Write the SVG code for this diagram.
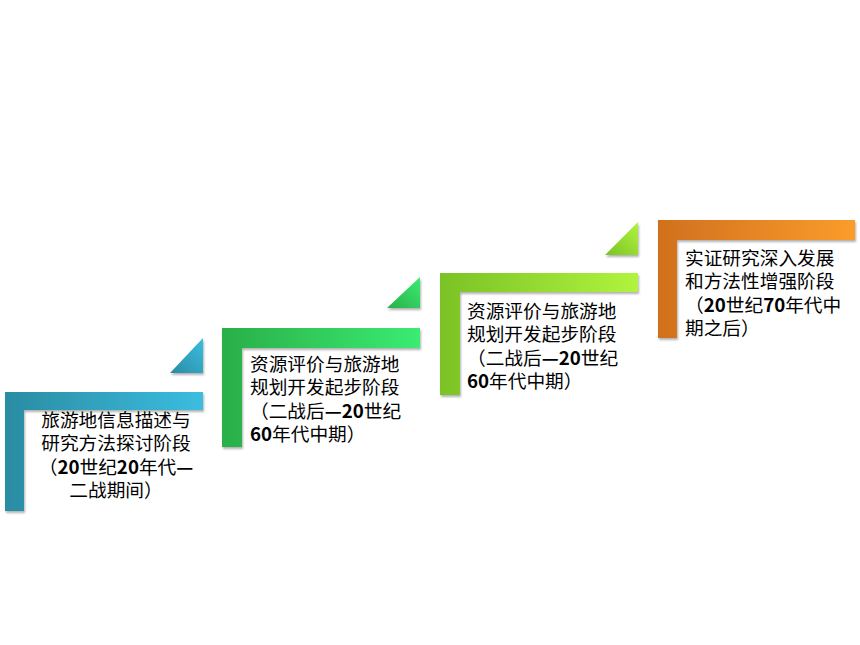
<svg xmlns="http://www.w3.org/2000/svg" width="860" height="645" viewBox="0 0 860 645">
<style>
.t{font-family:"Noto Sans CJK SC","Microsoft YaHei",sans-serif;font-size:18.7px;fill:#000}
.m{text-anchor:middle}
.b{font-weight:bold}
</style>
<defs>
<filter id="sh" x="-10%" y="-10%" width="130%" height="130%">
<feDropShadow dx="1" dy="2" stdDeviation="1.2" flood-color="#000" flood-opacity="0.3"/>
</filter>
<linearGradient id="g1" gradientUnits="userSpaceOnUse" x1="5" y1="0" x2="203" y2="0"><stop offset="0" stop-color="#2a8ca2"/><stop offset="1" stop-color="#3bbde0"/></linearGradient>
<linearGradient id="t1" x1="0" y1="1" x2="1" y2="0"><stop offset="0" stop-color="#2a8ca2"/><stop offset="1" stop-color="#3bbde0"/></linearGradient>
<linearGradient id="g2" gradientUnits="userSpaceOnUse" x1="222" y1="0" x2="420" y2="0"><stop offset="0" stop-color="#2aaf48"/><stop offset="1" stop-color="#3aec72"/></linearGradient>
<linearGradient id="t2" x1="0" y1="1" x2="1" y2="0"><stop offset="0" stop-color="#2aaf48"/><stop offset="1" stop-color="#3aec72"/></linearGradient>
<linearGradient id="g3" gradientUnits="userSpaceOnUse" x1="440" y1="0" x2="638" y2="0"><stop offset="0" stop-color="#7bc226"/><stop offset="1" stop-color="#b0f43e"/></linearGradient>
<linearGradient id="t3" x1="0" y1="1" x2="1" y2="0"><stop offset="0" stop-color="#7bc226"/><stop offset="1" stop-color="#b0f43e"/></linearGradient>
<linearGradient id="g4" gradientUnits="userSpaceOnUse" x1="658" y1="0" x2="855" y2="0"><stop offset="0" stop-color="#d0701e"/><stop offset="1" stop-color="#fb9c2c"/></linearGradient>
</defs>
<g id="connectors"></g>
<g id="step1">
<path d="M5 392H203V410H24V511H5Z" fill="url(#g1)" filter="url(#sh)"/>
<path d="M170 373L203 338V373Z" fill="url(#t1)" filter="url(#sh)"/>
<text class="t m" x="116" y="427">旅游地信息描述与</text>
<text class="t m" x="116" y="450">研究方法探讨阶段</text>
<text class="t m" x="116" y="474">（<tspan class="b">20</tspan>世纪<tspan class="b">20</tspan>年代<tspan class="b">—</tspan></text>
<text class="t m" x="116" y="497">二战期间）</text>
</g>
<g id="step2">
<path d="M222 328H420V348H242V447H222Z" fill="url(#g2)" filter="url(#sh)"/>
<path d="M387 308L420 277V308Z" fill="url(#t2)" filter="url(#sh)"/>
<text class="t" x="250" y="371">资源评价与旅游地</text>
<text class="t" x="250" y="394">规划开发起步阶段</text>
<text class="t" x="250" y="418">（二战后<tspan class="b">—20</tspan>世纪</text>
<text class="t" x="250" y="441"><tspan class="b">60</tspan>年代中期）</text>
</g>
<g id="step3">
<path d="M440 273H638V292H460V395H440Z" fill="url(#g3)" filter="url(#sh)"/>
<path d="M605 255L638 222V255Z" fill="url(#t3)" filter="url(#sh)"/>
<text class="t" x="467" y="318">资源评价与旅游地</text>
<text class="t" x="467" y="341">规划开发起步阶段</text>
<text class="t" x="467" y="365">（二战后<tspan class="b">—20</tspan>世纪</text>
<text class="t" x="467" y="388"><tspan class="b">60</tspan>年代中期）</text>
</g>
<g id="step4">
<path d="M658 220H855V240H677V338H658Z" fill="url(#g4)" filter="url(#sh)"/>
<text class="t" x="685" y="265">实证研究深入发展</text>
<text class="t" x="685" y="288">和方法性增强阶段</text>
<text class="t" x="685" y="312">（<tspan class="b">20</tspan>世纪<tspan class="b">70</tspan>年代中</text>
<text class="t" x="685" y="335">期之后）</text>
</g>
</svg>
